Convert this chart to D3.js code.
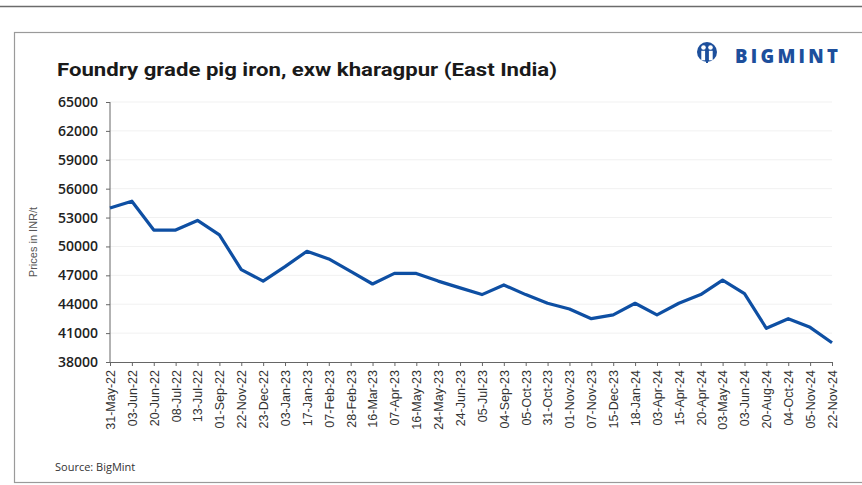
<!DOCTYPE html>
<html>
<head>
<meta charset="utf-8">
<script src="https://cdn.jsdelivr.net/npm/d3@7"></script>
<style>
  body { margin: 0; background: #fff; }
  svg { display: block; font-family: "Liberation Sans", Arial, sans-serif; }
</style>
</head>
<body>
<svg width="862" height="485"></svg>
<script>

var dates = ["31-May-22","03-Jun-22","20-Jun-22","08-Jul-22","13-Jul-22","01-Sep-22","22-Nov-22",
  "23-Dec-22","03-Jan-23","17-Jan-23","07-Feb-23","28-Feb-23","16-Mar-23","07-Apr-23","16-May-23",
  "24-May-23","24-Jun-23","05-Jul-23","04-Sep-23","05-Oct-23","31-Oct-23","01-Nov-23","07-Nov-23",
  "15-Dec-23","18-Jan-24","03-Apr-24","15-Apr-24","20-Apr-24","03-May-24","03-Jun-24","20-Aug-24",
  "04-Oct-24","05-Nov-24","22-Nov-24"];

var prices = [54000, 54700, 51700, 51700, 52700, 51200, 47600,
  46400, 47900, 49500, 48700, 47400, 46100, 47200, 47200,
  46400, 45700, 45000, 46000, 45000, 44100, 43500, 42500,
  42900, 44100, 42900, 44100, 45000, 46500, 45100, 41500,
  42500, 41600, 40000];

var yTicks = [38000, 41000, 44000, 47000, 50000, 53000, 56000, 59000, 62000, 65000];

var svg = d3.select("svg"),
    margin = {top: 102, right: 30, bottom: 123, left: 110},
    width = +svg.attr("width") - margin.left - margin.right,
    height = +svg.attr("height") - margin.top - margin.bottom;

// outer frame
svg.append("line")
    .attr("x1", 0).attr("x2", 862).attr("y1", 6.5).attr("y2", 6.5)
    .attr("stroke", "#6b6b6b").attr("stroke-width", 1.5);
svg.append("rect")
    .attr("x", 14.5).attr("y", 32.5).attr("width", 870).attr("height", 450)
    .attr("fill", "none").attr("stroke", "#9a9a9a").attr("stroke-width", 1.2);

// title
svg.append("text")
    .attr("x", 57).attr("y", 76)
    .attr("font-family", "Roboto, sans-serif")
    .attr("font-weight", 700)
    .attr("font-size", 19)
    .attr("fill", "#1a1a1a")
    .attr("textLength", 500)
    .attr("lengthAdjust", "spacingAndGlyphs")
    .text("Foundry grade pig iron, exw kharagpur (East India)");

// logo
var logo = svg.append("g").attr("transform", "translate(707,52)");
logo.append("circle").attr("r", 10).attr("fill", "#1d4f9c");
logo.append("circle").attr("cx", -3.5).attr("cy", -4.5).attr("r", 2.3).attr("fill", "#fff");
logo.append("circle").attr("cx", 3.5).attr("cy", -4.5).attr("r", 2.3).attr("fill", "#fff");
logo.append("rect").attr("x", -5.7).attr("y", -1.2).attr("width", 3.8).attr("height", 9.5).attr("fill", "#fff");
logo.append("rect").attr("x", 1.9).attr("y", -1.2).attr("width", 3.8).attr("height", 9.5).attr("fill", "#fff");
logo.append("rect").attr("x", -1).attr("y", 4).attr("width", 2).attr("height", 7).attr("fill", "#1d4f9c");
svg.append("text")
    .attr("x", 735).attr("y", 62.5)
    .attr("font-family", "'Open Sans', sans-serif")
    .attr("font-weight", 800)
    .attr("font-size", 18.5)
    .attr("fill", "#1d4f9c")
    .attr("textLength", 103)
    .attr("lengthAdjust", "spacing")
    .text("BIGMINT");

var g = svg.append("g").attr("transform", "translate(" + margin.left + "," + margin.top + ")");

var x = d3.scalePoint()
    .domain(dates)
    .range([0, width]);

var y = d3.scaleLinear()
    .domain([38000, 65000])
    .range([height, 0]);

// grid
g.append("g")
  .selectAll("line")
  .data(yTicks.slice(1))
  .enter().append("line")
    .attr("x1", 0).attr("x2", width)
    .attr("y1", function(d) { return y(d); })
    .attr("y2", function(d) { return y(d); })
    .attr("stroke", "#f1f1f1")
    .attr("stroke-width", 1);

var yAxis = g.append("g")
    .attr("class", "axis axis--y")
    .call(d3.axisLeft(y).tickValues(yTicks).tickSize(4).tickPadding(8).tickFormat(d3.format("d")));
yAxis.selectAll("text")
    .attr("font-family", "'Open Sans', sans-serif")
    .attr("font-size", 14)
    .attr("font-weight", 600)
    .attr("fill", "#222");
yAxis.selectAll("line, path").attr("stroke", "#666");
yAxis.select(".domain").attr("d", "M0," + height + "V0");

var xAxis = g.append("g")
    .attr("class", "axis axis--x")
    .attr("transform", "translate(0," + height + ")")
    .call(d3.axisBottom(x).tickSize(4).tickSizeOuter(0));
xAxis.selectAll("line, path").attr("stroke", "#666");
xAxis.selectAll("text")
    .attr("font-size", 12.5)
    .attr("fill", "#333")
    .attr("transform", "rotate(-90)")
    .attr("text-anchor", "end")
    .attr("x", -8)
    .attr("y", 0)
    .attr("dy", "0.35em");

// y axis title
svg.append("text")
    .attr("transform", "translate(37,242) rotate(-90)")
    .attr("text-anchor", "middle")
    .attr("font-size", 11)
    .attr("fill", "#555")
    .text("Prices in INR/t");

var line = d3.line()
    .x(function(d, i) { return x(dates[i]); })
    .y(function(d) { return y(d); });

g.append("path")
    .datum(prices)
    .attr("class", "line")
    .attr("fill", "none")
    .attr("stroke", "#0e4fa3")
    .attr("stroke-width", 3.2)
    .attr("stroke-linejoin", "round")
    .attr("d", line);

// source
svg.append("text")
    .attr("x", 55).attr("y", 471)
    .attr("font-family", "'Open Sans', sans-serif")
    .attr("font-size", 11)
    .attr("fill", "#333")
    .text("Source: BigMint");

</script>
</body>
</html>
